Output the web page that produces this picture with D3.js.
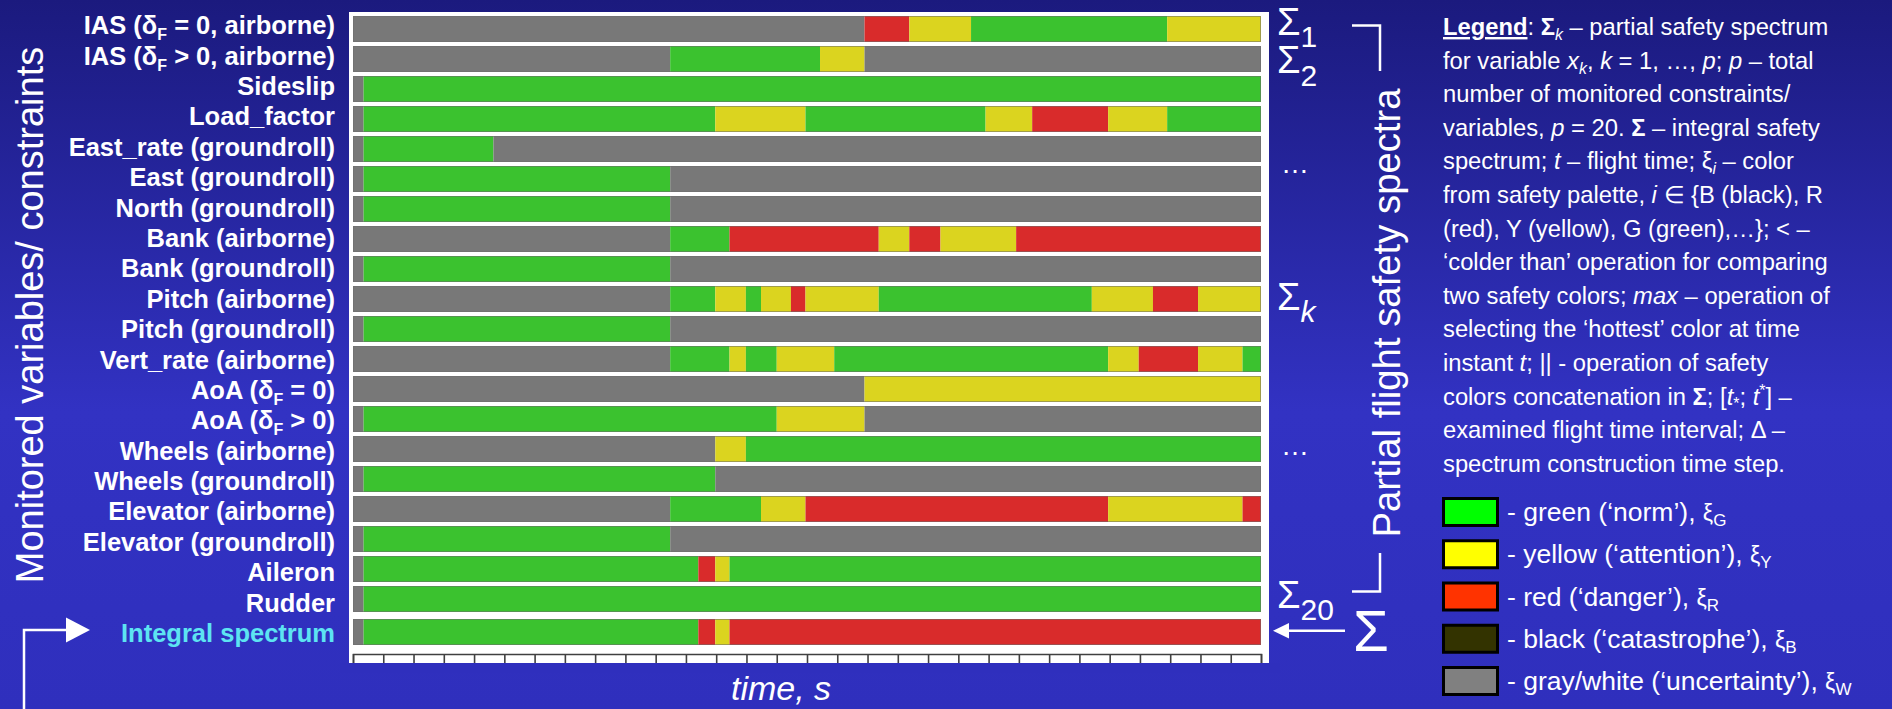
<!DOCTYPE html>
<html>
<head>
<meta charset="utf-8">
<script src="https://cdn.jsdelivr.net/npm/d3@7"></script>
<style>
  html, body { margin: 0; padding: 0; overflow: hidden; background: #2f2fbd; }
  text { font-family: "Liberation Sans", Arial, sans-serif; }
</style>
</head>
<body>
<svg id="chart" width="1892" height="709"></svg>
<script>
// Monitored variables / constraints (one partial safety spectrum each)
const variables = [
  "IAS (δ{F} = 0, airborne)",
  "IAS (δ{F} > 0, airborne)",
  "Sideslip",
  "Load_factor",
  "East_rate (groundroll)",
  "East (groundroll)",
  "North (groundroll)",
  "Bank (airborne)",
  "Bank (groundroll)",
  "Pitch (airborne)",
  "Pitch (groundroll)",
  "Vert_rate (airborne)",
  "AoA (δ{F} = 0)",
  "AoA (δ{F} > 0)",
  "Wheels (airborne)",
  "Wheels (groundroll)",
  "Elevator (airborne)",
  "Elevator (groundroll)",
  "Aileron",
  "Rudder"
];

// Safety colour of each variable over time: [state, end time of segment, s]
// G = green, Y = yellow, R = red, W = gray/white (uncertainty)
const spectra = [
  [["W",16.9],["R",18.38],["Y",20.42],["G",26.9],["Y",30]],
  [["W",10.48],["G",15.43],["Y",16.9],["W",30]],
  [["W",0.35],["G",30]],
  [["W",0.35],["G",11.97],["Y",14.95],["G",20.9],["Y",22.44],["R",24.95],["Y",26.9],["G",30]],
  [["W",0.35],["G",4.64],["W",30]],
  [["W",0.35],["G",10.48],["W",30]],
  [["W",0.35],["G",10.48],["W",30]],
  [["W",10.48],["G",12.44],["R",17.37],["Y",18.38],["R",19.41],["Y",21.91],["R",30]],
  [["W",0.35],["G",10.48],["W",30]],
  [["W",10.48],["G",11.97],["Y",12.98],["G",13.48],["Y",14.47],["R",14.95],["Y",17.37],["G",24.41],["Y",26.43],["R",27.92],["Y",30]],
  [["W",0.35],["G",10.48],["W",30]],
  [["W",10.48],["G",12.44],["Y",12.98],["G",14.0],["Y",15.9],["G",24.95],["Y",25.96],["R",27.92],["Y",29.39],["G",30]],
  [["W",16.9],["Y",30]],
  [["W",0.35],["G",14.0],["Y",16.9],["W",30]],
  [["W",11.97],["Y",12.98],["G",30]],
  [["W",0.35],["G",11.97],["W",30]],
  [["W",10.48],["G",13.48],["Y",14.95],["R",24.95],["Y",29.39],["R",30]],
  [["W",0.35],["G",10.48],["W",30]],
  [["W",0.35],["G",11.41],["R",11.97],["Y",12.44],["G",30]],
  [["W",0.35],["G",30]]
];

// Integral spectrum: hottest colour over all partial spectra
const integralLabel = "Integral spectrum";
const integralSpectrum = [["W",0.35],["G",11.41],["R",11.97],["Y",12.44],["R",30]];

// Time axis (s)
const timeDomain = [0, 30];
const timeTicks = d3.range(0, 31, 1);

// Colours of the safety palette as drawn in the spectra
const stateColors = { G: "#3bc22f", Y: "#dbd41f", R: "#d92b2b", B: "#333300", W: "#787878" };

// Palette legend
const legendStates = ["G", "Y", "R", "B", "W"];
const legendNames = ["green (‘norm’)", "yellow (‘attention’)", "red (‘danger’)", "black (‘catastrophe’)", "gray/white (‘uncertainty’)"];
const legendSwatch = { G: "#00ff00", Y: "#ffff00", R: "#ff3300", B: "#333300", W: "#808080" };

// Explanatory legend paragraph: runs of [text, style]
const legendLines = [
  [["Legend","bu"],[": ","n"],["Σ","b"],["k","is"],[" – partial safety spectrum","n"]],
  [["for variable ","n"],["x","i"],["k","is"],[", ","n"],["k","i"],[" = 1, …, ","n"],["p","i"],["; ","n"],["p","i"],[" – total","n"]],
  [["number of monitored constraints/","n"]],
  [["variables, ","n"],["p","i"],[" = 20. ","n"],["Σ","b"],[" – integral safety","n"]],
  [["spectrum; ","n"],["t","i"],[" – flight time; ","n"],["ξ","n"],["i","is"],[" – color","n"]],
  [["from safety palette, ","n"],["i","i"],[" ∈ {B (black), R","n"]],
  [["(red), Y (yellow), G (green),…}; < –","n"]],
  [["‘colder than’ operation for comparing","n"]],
  [["two safety colors; ","n"],["max","i"],[" – operation of","n"]],
  [["selecting the ‘hottest’ color at time","n"]],
  [["instant ","n"],["t","i"],["; || - operation of safety","n"]],
  [["colors concatenation in ","n"],["Σ","b"],["; [","n"],["t","i"],["*","s"],["; ","n"],["t","i"],["*","sp"],["] –","n"]],
  [["examined flight time interval; Δ –","n"]],
  [["spectrum construction time step.","n"]]
];

const svg = d3.select("#chart");
const W = 1892, H = 709;

// Background gradient
const defs = svg.append("defs");
const grad = defs.append("linearGradient").attr("id", "bg").attr("x1", 0).attr("y1", 0).attr("x2", 0).attr("y2", 1);
grad.append("stop").attr("offset", "0%").attr("stop-color", "#1b1a7e");
grad.append("stop").attr("offset", "58%").attr("stop-color", "#3232c3");
grad.append("stop").attr("offset", "100%").attr("stop-color", "#2f2fbd");
svg.append("rect").attr("width", W).attr("height", H).attr("fill", "url(#bg)");

// Scales
const x = d3.scaleLinear().domain(timeDomain).range([353, 1261]);
const y = d3.scaleBand().domain(d3.range(variables.length)).range([14, 614])
  .paddingInner(4 / 30).paddingOuter(2 / 30);
const integralY = 619;
const labelY = d3.scaleLinear().domain([0, variables.length]).range([34.3, 642]);

// White chart panel
svg.append("rect").attr("x", 349).attr("y", 12).attr("width", 920).attr("height", 651).attr("fill", "#ffffff");

function toSegments(spec) {
  let start = timeDomain[0];
  return spec.map(([state, end]) => { const s = { state, start, end }; start = end; return s; });
}

function drawSpectrum(g, spec, top, h) {
  g.selectAll("rect.seg").data(toSegments(spec)).join("rect")
    .attr("class", "seg")
    .attr("x", d => x(d.start))
    .attr("width", d => x(d.end) - x(d.start))
    .attr("y", top).attr("height", h)
    .attr("fill", d => stateColors[d.state]);
  g.append("rect")
    .attr("x", x(timeDomain[0]) + 0.5).attr("y", top + 0.5)
    .attr("width", x(timeDomain[1]) - x(timeDomain[0]) - 1).attr("height", h - 1)
    .attr("fill", "none").attr("stroke", "rgba(110,110,110,0.55)").attr("stroke-width", 1);
}

const rows = svg.append("g");
spectra.forEach((spec, i) => drawSpectrum(rows.append("g"), spec, y(i), y.bandwidth()));
drawSpectrum(rows.append("g"), integralSpectrum, integralY, y.bandwidth());

// Ruler-like time axis
const axis = d3.axisBottom(x).tickValues(timeTicks).tickSize(9).tickSizeOuter(9).tickFormat("");
const ax = svg.append("g").attr("transform", "translate(0,654)").call(axis);
ax.selectAll("path, line").attr("stroke", "#404040").attr("stroke-width", 1.6);
svg.append("rect").attr("x", 340).attr("y", 663).attr("width", 940).attr("height", 10).attr("fill", "#2f2fbd");

// Row labels (with subscripts written as {..})
function addRich(textSel, str, subSize, shift) {
  const parts = str.split(/\{([^}]*)\}/);
  let cur = 0;
  parts.forEach((p, k) => {
    if (!p) return;
    const isSub = k % 2 === 1;
    const target = isSub ? shift : 0;
    const t = textSel.append("tspan").attr("dy", target - cur).text(p);
    if (isSub) t.attr("font-size", subSize);
    cur = target;
  });
}

const labels = svg.append("g").attr("font-weight", "bold").attr("font-size", 25.5).attr("text-anchor", "end");
variables.forEach((v, i) => {
  const t = labels.append("text").attr("x", 335).attr("y", labelY(i)).attr("fill", "#ffffff");
  addRich(t, v, 16, 6);
});
labels.append("text").attr("x", 335).attr("y", labelY(variables.length)).attr("fill", "#5de4f2").text(integralLabel);

// Axis titles
svg.append("text").attr("transform", "translate(43,315) rotate(-90)").attr("text-anchor", "middle")
  .attr("font-size", 38).attr("fill", "#ffffff").text("Monitored variables/ constraints");
svg.append("text").attr("x", 781).attr("y", 700).attr("text-anchor", "middle")
  .attr("font-size", 34).attr("font-style", "italic").attr("fill", "#ffffff").text("time, s");
svg.append("text").attr("transform", "translate(1400,313) rotate(-90)").attr("text-anchor", "middle")
  .attr("font-size", 38.3).attr("fill", "#ffffff").text("Partial flight safety spectra");

// Arrow pointing at the integral spectrum (left)
svg.append("path").attr("d", "M24,709 V630 H68").attr("fill", "none").attr("stroke", "#ffffff").attr("stroke-width", 2.5);
svg.append("path").attr("d", "M66,617.5 L90,630 L66,642.5 Z").attr("fill", "#ffffff");

// Sigma annotations (right)
const ann = svg.append("g").attr("fill", "#ffffff");
function sigma(xp, yp, sub, size, subSize, dy, italicSub) {
  const t = ann.append("text").attr("x", xp).attr("y", yp).attr("font-size", size);
  t.append("tspan").text("Σ");
  if (sub) {
    const s = t.append("tspan").attr("dy", dy).attr("font-size", subSize).text(sub);
    if (italicSub) s.attr("font-style", "italic");
  }
}
sigma(1277, 35, "1", 38, 30, 12, false);
sigma(1277, 73, "2", 38, 30, 13, false);
sigma(1277, 310, "k", 38, 30, 12, true);
sigma(1277, 608, "20", 38, 30, 12, false);
sigma(1353, 651, null, 58);
ann.append("text").attr("x", 1281).attr("y", 173).attr("font-size", 28).text("…");
ann.append("text").attr("x", 1281).attr("y", 455).attr("font-size", 28).text("…");

// Brackets around the partial spectra title
svg.append("path").attr("d", "M1352,25.5 H1380 V71").attr("fill", "none").attr("stroke", "#ffffff").attr("stroke-width", 2.5);
svg.append("path").attr("d", "M1380,553 V591.5 H1352").attr("fill", "none").attr("stroke", "#ffffff").attr("stroke-width", 2.5);

// Arrow pointing at the integral spectrum (right)
svg.append("path").attr("d", "M1345,630.7 H1284").attr("stroke", "#ffffff").attr("stroke-width", 2.5);
svg.append("path").attr("d", "M1273,630.7 L1289,623 L1289,638.4 Z").attr("fill", "#ffffff");

// Legend paragraph
const styleMap = {
  n:   { w: "normal", s: "normal", shift: 0, size: null },
  b:   { w: "bold", s: "normal", shift: 0, size: null },
  bu:  { w: "bold", s: "normal", shift: 0, size: null, u: true },
  i:   { w: "normal", s: "italic", shift: 0, size: null },
  is:  { w: "normal", s: "italic", shift: 5, size: 16 },
  s:   { w: "normal", s: "normal", shift: 4, size: 16 },
  sp:  { w: "normal", s: "normal", shift: -9, size: 16 }
};
const para = svg.append("g").attr("transform", "translate(1443,0) scale(0.99,1)")
  .attr("font-size", 24).attr("fill", "#ffffff");
legendLines.forEach((line, li) => {
  const t = para.append("text").attr("x", 0).attr("y", 35 + 33.6 * li);
  let cur = 0;
  line.forEach(([txt, st]) => {
    const m = styleMap[st];
    const ts = t.append("tspan").attr("dy", m.shift - cur).attr("font-weight", m.w).attr("font-style", m.s).text(txt);
    if (m.size) ts.attr("font-size", m.size);
    if (m.u) ts.attr("text-decoration", "underline");
    cur = m.shift;
  });
});

// Palette swatches
const swY = d3.scalePoint().domain(legendStates).range([512, 681]);
const sw = svg.append("g");
sw.selectAll("rect").data(legendStates).join("rect")
  .attr("x", 1443.5).attr("y", d => swY(d) - 13.5).attr("width", 54).attr("height", 27)
  .attr("fill", d => legendSwatch[d]).attr("stroke", "#000000").attr("stroke-width", 3);
const swText = svg.append("g").attr("transform", "translate(1507,0)")
  .attr("font-size", 26.5).attr("fill", "#ffffff");
legendStates.forEach((k, i) => {
  const t = swText.append("text").attr("x", 0).attr("y", swY(k) + 9);
  t.append("tspan").text("- " + legendNames[i] + ", ");
  t.append("tspan").attr("font-size", 23).text("ξ");
  t.append("tspan").attr("dy", 5).attr("font-size", 17).text(k);
});
</script>
</body>
</html>
